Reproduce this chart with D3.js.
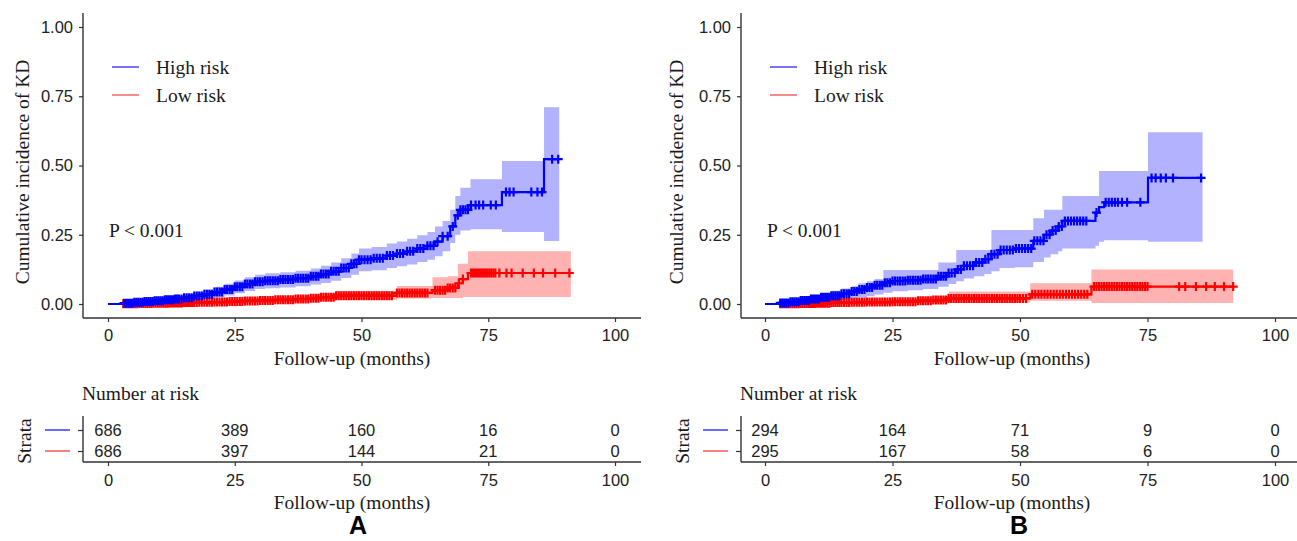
<!DOCTYPE html>
<html>
<head>
<meta charset="utf-8">
<script src="https://cdn.jsdelivr.net/npm/d3@7"></script>
<style>
    body { margin: 0; background: #fff; }
    svg { display: block; }
    .serif { font-family: "Liberation Serif", "Times New Roman", serif; font-size: 19.5px; fill: #1a1a1a; }
    .axis text { font-family: "Liberation Sans", Arial, sans-serif; font-size: 16.5px; fill: #222; }
    .axis line { stroke: #333; stroke-width: 1.2; }
    .axisLine { stroke: #333; stroke-width: 1.4; }
    .riskNum { font-family: "Liberation Sans", Arial, sans-serif; font-size: 16.5px; fill: #222; }
    .letter { font-family: "Liberation Sans", Arial, sans-serif; font-size: 25px; font-weight: bold; fill: #000; }
</style>
</head>
<body>
<script>
(function(){

    //tick values and group names
    var xTicks = [0, 25, 50, 75, 100];
    var yTicks = [0, 0.25, 0.5, 0.75, 1];
    var groups = ["High risk", "Low risk"];

    //panel A, high risk: step times, cumulative incidence, lower / upper CI, censor times
    var timeHighA = [0, 3, 5, 7, 9, 11, 13, 15, 17, 19, 21, 23, 25, 27, 29, 31, 34, 37, 40, 42, 44, 46, 48, 49.5, 52, 55, 57, 59, 61, 63, 64.5, 66, 67.5, 68.5, 69.5, 71.5, 77.7, 86, 89];
    var cumHighA = [0, 0.003, 0.006, 0.009, 0.012, 0.015, 0.018, 0.023, 0.029, 0.035, 0.043, 0.052, 0.062, 0.072, 0.08, 0.084, 0.088, 0.093, 0.1, 0.108, 0.118, 0.13, 0.145, 0.16, 0.165, 0.175, 0.182, 0.19, 0.2, 0.21, 0.225, 0.245, 0.28, 0.32, 0.34, 0.357, 0.404, 0.523, 0.523];
    var lowHighA = [0, 0, 0, 0.001, 0.003, 0.005, 0.007, 0.01, 0.014, 0.018, 0.024, 0.031, 0.039, 0.047, 0.054, 0.057, 0.06, 0.064, 0.07, 0.076, 0.084, 0.094, 0.106, 0.118, 0.122, 0.13, 0.136, 0.143, 0.152, 0.16, 0.172, 0.19, 0.22, 0.25, 0.265, 0.27, 0.26, 0.227, 0.227];
    var upHighA = [0, 0.008, 0.012, 0.016, 0.02, 0.025, 0.03, 0.036, 0.044, 0.052, 0.062, 0.073, 0.085, 0.097, 0.106, 0.111, 0.115, 0.12, 0.128, 0.138, 0.15, 0.165, 0.182, 0.2, 0.206, 0.218, 0.226, 0.236, 0.248, 0.26, 0.28, 0.3, 0.34, 0.39, 0.42, 0.45, 0.516, 0.71, 0.71];
    var censHighA = [3.2, 3.6, 4.0, 4.4, 4.8, 5.2, 5.6, 6.0, 6.4, 6.8, 7.2, 7.6, 8.0, 8.4, 8.8, 9.2, 9.6, 10.0, 10.4, 10.8, 11.2, 11.6, 12.0, 12.4, 12.8, 13.2, 13.6, 14.0, 14.5, 15.0, 15.5, 16.0, 16.5, 17.0, 17.5, 18.0, 18.5, 19.0, 19.5, 20.0, 20.5, 21.0, 21.5, 22.0, 22.5, 23.0, 23.5, 24.0, 24.5, 25.0, 25.5, 26.0, 26.5, 27.0, 27.5, 28.0, 28.5, 29.0, 29.5, 30.0, 30.5, 31.0, 31.5, 32.0, 32.5, 33.0, 33.5, 34.0, 34.5, 35.0, 35.5, 36.0, 36.5, 37.0, 37.5, 38.0, 38.5, 39.0, 39.5, 40.0, 40.5, 41.0, 41.5, 42.0, 42.5, 43.0, 43.5, 44.0, 44.5, 45.0, 45.5, 46.0, 46.5, 47.0, 47.5, 48.0, 48.5, 49.0, 49.5, 50.0, 50.6, 51.2, 51.8, 52.4, 53.0, 53.6, 54.2, 55.0, 55.6, 56.2, 57.0, 57.6, 58.2, 59.0, 59.6, 60.2, 61.0, 61.6, 62.2, 63.0, 63.6, 64.2, 65.0, 66.0, 67.0, 68.0, 69.0, 69.5, 70.0, 70.5, 71.0, 71.6, 72.5, 73.2, 74.0, 75.5, 76.5, 78.5, 79.2, 80.0, 83.5, 84.7, 85.6, 87.6, 88.8];

    //panel A, low risk
    var timeLowA = [0, 3, 6, 9, 12, 15, 18, 21, 24, 27, 30, 33, 37, 40, 42, 45, 57, 64, 67, 69, 70, 71, 91.3];
    var cumLowA = [0, 0.001, 0.002, 0.003, 0.004, 0.005, 0.006, 0.007, 0.009, 0.011, 0.013, 0.015, 0.018, 0.021, 0.024, 0.03, 0.04, 0.05, 0.058, 0.075, 0.09, 0.112, 0.112];
    var lowLowA = [0, 0, 0, 0, 0, 0, 0.001, 0.001, 0.002, 0.003, 0.004, 0.005, 0.007, 0.009, 0.011, 0.015, 0.02, 0.022, 0.022, 0.022, 0.025, 0.025, 0.025];
    var upLowA = [0, 0.004, 0.006, 0.008, 0.009, 0.011, 0.012, 0.014, 0.017, 0.02, 0.023, 0.026, 0.03, 0.034, 0.038, 0.047, 0.065, 0.097, 0.1, 0.145, 0.145, 0.19, 0.19];
    var censLowA = [3.0, 3.4, 3.8, 4.2, 4.6, 5.0, 5.4, 5.8, 6.2, 6.6, 7.0, 7.4, 7.8, 8.2, 8.6, 9.0, 9.4, 9.8, 10.2, 10.6, 11.0, 11.4, 11.8, 12.2, 12.6, 13.0, 13.4, 13.8, 14.2, 14.6, 15.0, 15.4, 15.8, 16.2, 16.6, 17.0, 17.5, 18.0, 18.5, 19.0, 19.5, 20.0, 20.5, 21.0, 21.5, 22.0, 22.5, 23.0, 23.5, 24.0, 24.5, 25.0, 25.5, 26.0, 26.5, 27.0, 27.5, 28.0, 28.5, 29.0, 29.5, 30.0, 30.5, 31.0, 31.5, 32.0, 32.5, 33.0, 33.5, 34.0, 34.5, 35.0, 35.5, 36.0, 36.5, 37.0, 37.5, 38.0, 38.5, 39.0, 39.5, 40.0, 40.5, 41.0, 41.5, 42.0, 42.5, 43.0, 43.5, 44.0, 44.5, 45.0, 45.5, 46.0, 46.5, 47.0, 47.5, 48.0, 48.5, 49.0, 49.5, 50.0, 50.5, 51.0, 51.5, 52.0, 52.5, 53.0, 53.5, 54.0, 54.5, 55.0, 55.5, 56.0, 57.0, 57.5, 58.0, 58.5, 59.0, 59.5, 60.0, 60.5, 61.0, 61.5, 62.0, 62.5, 63.0, 64.5, 65.0, 65.5, 66.0, 66.5, 67.0, 67.5, 68.0, 68.5, 69.2, 70.0, 71.6, 72.0, 72.4, 72.8, 73.2, 73.6, 74.0, 74.4, 74.8, 75.2, 75.6, 76.0, 76.4, 77.2, 78.6, 79.6, 81.8, 84.0, 85.8, 88.2, 91.0];

    //panel B, high risk
    var timeHighB = [0, 3, 5, 7, 9, 11, 13, 15, 17, 18.3, 20, 21.5, 23.2, 25, 28, 31, 34, 36, 37.5, 39, 41, 43, 44.4, 46, 49, 52.6, 54.7, 56, 57.5, 58.3, 64.8, 65.5, 66.5, 75.1, 85.8];
    var cumHighB = [0, 0.004, 0.008, 0.013, 0.018, 0.024, 0.03, 0.037, 0.045, 0.052, 0.06, 0.068, 0.077, 0.083, 0.086, 0.09, 0.1, 0.112, 0.125, 0.138, 0.15, 0.162, 0.18, 0.195, 0.2, 0.228, 0.25, 0.265, 0.28, 0.3, 0.33, 0.35, 0.367, 0.455, 0.455];
    var lowHighB = [0, 0, 0, 0.001, 0.004, 0.007, 0.01, 0.014, 0.019, 0.023, 0.028, 0.034, 0.041, 0.046, 0.05, 0.054, 0.062, 0.072, 0.082, 0.092, 0.1, 0.108, 0.118, 0.13, 0.133, 0.152, 0.168, 0.18, 0.19, 0.2, 0.21, 0.225, 0.23, 0.225, 0.225];
    var upHighB = [0, 0.01, 0.017, 0.025, 0.032, 0.04, 0.048, 0.056, 0.064, 0.075, 0.082, 0.09, 0.123, 0.123, 0.123, 0.123, 0.15, 0.15, 0.195, 0.195, 0.195, 0.195, 0.267, 0.267, 0.267, 0.31, 0.34, 0.34, 0.34, 0.39, 0.39, 0.48, 0.48, 0.62, 0.62];
    var censHighB = [3.0, 3.4, 3.8, 4.2, 4.6, 5.0, 5.4, 5.8, 6.2, 6.6, 7.0, 7.4, 7.8, 8.2, 8.6, 9.0, 9.4, 9.8, 10.2, 10.6, 11.0, 11.4, 11.8, 12.2, 12.6, 13.0, 13.4, 13.8, 14.2, 14.6, 15.0, 15.5, 16.0, 16.5, 17.0, 17.5, 18.0, 18.5, 19.0, 19.5, 20.0, 20.5, 21.0, 21.5, 22.0, 22.5, 23.0, 23.5, 24.0, 24.5, 25.0, 25.5, 26.0, 26.5, 27.0, 27.5, 28.0, 28.5, 29.0, 29.5, 30.0, 30.5, 31.0, 31.5, 32.0, 32.5, 33.0, 33.5, 34.0, 34.5, 35.0, 35.5, 36.0, 36.6, 37.2, 37.8, 38.4, 39.0, 39.6, 40.2, 40.8, 41.4, 42.0, 42.6, 43.2, 43.8, 44.4, 45.0, 45.6, 46.2, 46.8, 47.4, 48.0, 48.6, 49.2, 49.8, 50.4, 51.0, 51.6, 52.2, 52.8, 53.4, 54.0, 54.6, 55.2, 55.8, 56.4, 57.0, 57.6, 58.2, 58.8, 59.4, 60.0, 60.6, 61.2, 61.8, 62.4, 63.0, 65.0, 66.8, 67.4, 68.0, 68.6, 69.2, 70.0, 71.0, 73.6, 75.8, 76.6, 77.6, 78.6, 80.0, 85.5];

    //panel B, low risk
    var timeLowB = [0, 3, 7, 10, 13, 17, 20, 25, 30, 33, 36, 52, 64, 91.8];
    var cumLowB = [0, 0.001, 0.002, 0.003, 0.005, 0.006, 0.007, 0.008, 0.012, 0.014, 0.02, 0.035, 0.063, 0.063];
    var lowLowB = [0, 0, 0, 0, 0, 0, 0, 0.001, 0.002, 0.003, 0.005, 0.012, 0.004, 0.004];
    var upLowB = [0, 0.004, 0.006, 0.008, 0.012, 0.014, 0.016, 0.018, 0.025, 0.028, 0.045, 0.075, 0.125, 0.125];
    var censLowB = [3.0, 3.4, 3.8, 4.2, 4.6, 5.0, 5.4, 5.8, 6.2, 6.6, 7.0, 7.4, 7.8, 8.2, 8.6, 9.0, 9.4, 9.8, 10.2, 10.6, 11.0, 11.4, 11.8, 12.2, 12.6, 13.0, 13.4, 13.8, 14.2, 14.6, 15.0, 15.5, 16.0, 16.5, 17.0, 17.5, 18.0, 18.5, 19.0, 19.5, 20.0, 20.5, 21.0, 21.5, 22.0, 22.5, 23.0, 23.5, 24.0, 24.5, 25.0, 25.5, 26.0, 26.5, 27.0, 27.5, 28.0, 28.5, 29.0, 29.5, 30.0, 30.5, 31.0, 31.5, 32.0, 32.5, 33.0, 33.5, 34.0, 34.5, 35.0, 35.5, 36.0, 36.5, 37.0, 37.5, 38.0, 38.5, 39.0, 39.5, 40.0, 40.5, 41.0, 41.5, 42.0, 42.5, 43.0, 43.5, 44.0, 44.5, 45.0, 45.5, 46.0, 46.5, 47.0, 47.5, 48.0, 48.5, 49.0, 49.5, 50.0, 50.6, 51.2, 52.4, 53.0, 53.6, 54.2, 54.8, 55.4, 56.0, 56.6, 57.2, 57.8, 58.4, 59.0, 59.6, 60.2, 60.8, 61.4, 62.0, 62.6, 63.2, 64.5, 65.0, 65.5, 66.0, 66.5, 67.0, 67.5, 68.0, 68.5, 69.0, 69.5, 70.0, 70.5, 71.0, 71.5, 72.0, 72.5, 73.0, 73.5, 74.0, 74.5, 75.0, 81.2, 82.4, 84.5, 86.5, 88.2, 90.0, 91.8];

    //number at risk tables
    var riskHighA = [686, 389, 160, 16, 0];
    var riskLowA = [686, 397, 144, 21, 0];
    var riskHighB = [294, 164, 71, 9, 0];
    var riskLowB = [295, 167, 58, 6, 0];

    var colors = { "High risk": "#0000ff", "Low risk": "#ff0000" };
    var keyColors = { "High risk": "#4545ff", "Low risk": "#f26464" };

    var svg = d3.select("body")
        .append("svg")
        .attr("width", 1297)
        .attr("height", 541);

    //panel layouts
    var panels = [
        { letter: "A", axisX: 83, right: 641, x0: 108, x1: 615, titleX: 352, letterX: 358, ylabX: 22,
          series: [
            { name: "High risk", t: timeHighA, v: cumHighA, lo: lowHighA, hi: upHighA, cens: censHighA },
            { name: "Low risk", t: timeLowA, v: cumLowA, lo: lowLowA, hi: upLowA, cens: censLowA }
          ],
          risk: [riskHighA, riskLowA] },
        { letter: "B", axisX: 741, right: 1297, x0: 765, x1: 1275, titleX: 1012, letterX: 1019, ylabX: 676,
          series: [
            { name: "High risk", t: timeHighB, v: cumHighB, lo: lowHighB, hi: upHighB, cens: censHighB },
            { name: "Low risk", t: timeLowB, v: cumLowB, lo: lowLowB, hi: upLowB, cens: censLowB }
          ],
          risk: [riskHighB, riskLowB] }
    ];

    panels.forEach(drawPanel);

    //value of a step function at time t
    function stepAt(times, vals, t){
        var i = d3.bisectRight(times, t) - 1;
        return vals[Math.max(0, i)];
    };

    function drawPanel(p){

        var x = d3.scaleLinear().domain([0, 100]).range([p.x0, p.x1]);
        var y = d3.scaleLinear().domain([0, 1]).range([304, 27]);
        var g = svg.append("g");

        //confidence bands first
        p.series.forEach(function(s){
            var area = d3.area()
                .curve(d3.curveStepAfter)
                .x(function(d, i){ return x(s.t[i]); })
                .y0(function(d, i){ return y(s.lo[i]); })
                .y1(function(d, i){ return y(s.hi[i]); });
            g.append("path")
                .attr("d", area(s.t))
                .style("fill", colors[s.name])
                .style("fill-opacity", 0.3);
        });

        //step lines and censor marks, low risk below high risk
        p.series.slice().reverse().forEach(function(s){
            var line = d3.line()
                .curve(d3.curveStepAfter)
                .x(function(d, i){ return x(s.t[i]); })
                .y(function(d, i){ return y(s.v[i]); });
            g.append("path")
                .attr("d", line(s.t))
                .style("fill", "none")
                .style("stroke", colors[s.name])
                .style("stroke-width", 2.2);

            g.selectAll(null)
                .data(s.cens)
                .enter()
                .append("path")
                .attr("d", function(d){
                    var cx = x(d), cy = y(stepAt(s.t, s.v, d));
                    return "M" + (cx - 4.5) + "," + cy + "H" + (cx + 4.5) +
                        "M" + cx + "," + (cy - 4.5) + "V" + (cy + 4.5);
                })
                .style("stroke", colors[s.name])
                .style("stroke-width", 2.2);
        });

        //axes
        var yAxis = d3.axisLeft(y)
            .tickValues(yTicks)
            .tickFormat(d3.format(".2f"))
            .tickSize(4)
            .tickPadding(6);
        g.append("g")
            .attr("class", "axis")
            .attr("transform", "translate(" + p.axisX + ",0)")
            .call(yAxis)
            .call(function(a){ a.select(".domain").remove(); });

        var xAxis = d3.axisBottom(x)
            .tickValues(xTicks)
            .tickSize(4)
            .tickPadding(7);
        g.append("g")
            .attr("class", "axis")
            .attr("transform", "translate(0,318)")
            .call(xAxis)
            .call(function(a){ a.select(".domain").remove(); });

        g.append("line").attr("class", "axisLine")
            .attr("x1", p.axisX).attr("x2", p.axisX)
            .attr("y1", 13).attr("y2", 318);
        g.append("line").attr("class", "axisLine")
            .attr("x1", p.axisX).attr("x2", p.right)
            .attr("y1", 318).attr("y2", 318);

        //axis titles
        g.append("text")
            .attr("class", "serif")
            .attr("transform", "translate(" + p.ylabX + ",172) rotate(-90)")
            .attr("text-anchor", "middle")
            .attr("dy", "0.35em")
            .text("Cumulative incidence of KD");
        g.append("text")
            .attr("class", "serif")
            .attr("x", p.titleX)
            .attr("y", 358)
            .attr("dy", "0.35em")
            .attr("text-anchor", "middle")
            .text("Follow-up (months)");

        //legend
        var legend = g.selectAll(".legend")
            .data(groups)
            .enter()
            .append("g")
            .attr("transform", function(d, i){ return "translate(" + (p.axisX + 29) + "," + (67 + i * 28) + ")"; });
        legend.append("line")
            .attr("x1", 0).attr("x2", 27)
            .style("stroke", function(d){ return keyColors[d]; })
            .style("stroke-width", 1.5);
        legend.append("text")
            .attr("class", "serif")
            .attr("x", 44)
            .attr("dy", "0.35em")
            .text(function(d){ return d; });

        g.append("text")
            .attr("class", "serif")
            .attr("x", p.axisX + 26)
            .attr("y", 230)
            .attr("dy", "0.35em")
            .text("P < 0.001");

        //number at risk table
        g.append("text")
            .attr("class", "serif")
            .attr("x", p.axisX - 1)
            .attr("y", 393)
            .attr("dy", "0.35em")
            .text("Number at risk");

        var row = d3.scalePoint().domain(groups).range([430, 451]);

        g.append("g")
            .attr("class", "axis")
            .attr("transform", "translate(" + p.axisX + ",0)")
            .call(d3.axisLeft(row).tickSize(5).tickFormat(""))
            .call(function(a){ a.select(".domain").remove(); });

        g.append("g")
            .attr("class", "axis")
            .attr("transform", "translate(0,462)")
            .call(d3.axisBottom(x).tickValues(xTicks).tickSize(4).tickPadding(8))
            .call(function(a){ a.select(".domain").remove(); });

        g.append("line").attr("class", "axisLine")
            .attr("x1", p.axisX).attr("x2", p.axisX)
            .attr("y1", 416).attr("y2", 462);
        g.append("line").attr("class", "axisLine")
            .attr("x1", p.axisX).attr("x2", p.right)
            .attr("y1", 462).attr("y2", 462);

        //strata keys
        g.selectAll(".key")
            .data(groups)
            .enter()
            .append("line")
            .attr("x1", p.axisX - 38).attr("x2", p.axisX - 13)
            .attr("y1", function(d){ return row(d); })
            .attr("y2", function(d){ return row(d); })
            .style("stroke", function(d){ return keyColors[d]; })
            .style("stroke-width", 1.6);

        g.append("text")
            .attr("class", "serif")
            .attr("transform", "translate(" + (p.axisX - 59) + ",441) rotate(-90)")
            .attr("text-anchor", "middle")
            .attr("dy", "0.35em")
            .text("Strata");

        p.risk.forEach(function(vals, r){
            g.selectAll(null)
                .data(vals)
                .enter()
                .append("text")
                .attr("class", "riskNum")
                .attr("x", function(d, i){ return x(xTicks[i]); })
                .attr("y", row(groups[r]))
                .attr("dy", "0.36em")
                .attr("text-anchor", "middle")
                .text(function(d){ return d; });
        });

        g.append("text")
            .attr("class", "serif")
            .attr("x", p.titleX)
            .attr("y", 502)
            .attr("dy", "0.35em")
            .attr("text-anchor", "middle")
            .text("Follow-up (months)");

        g.append("text")
            .attr("class", "letter")
            .attr("x", p.letterX)
            .attr("y", 534)
            .attr("text-anchor", "middle")
            .text(p.letter);
    };

})();
</script>
</body>
</html>
